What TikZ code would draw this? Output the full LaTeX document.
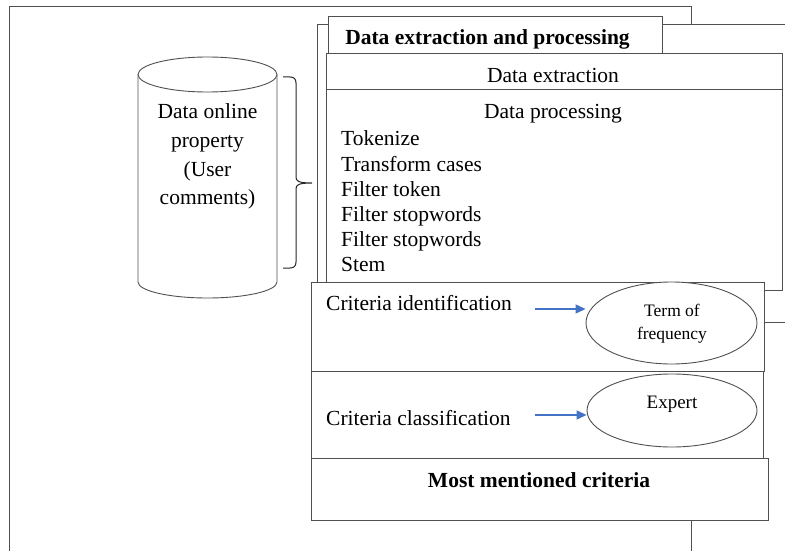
\documentclass[tikz,border=0pt]{standalone}
\usepackage{fontspec}
\setmainfont{Liberation Serif}
\usetikzlibrary{shapes.geometric,arrows.meta}
\definecolor{linegray}{HTML}{505050}
\definecolor{arrowblue}{HTML}{4472C4}
\tikzset{
  frame/.style={draw=linegray, fill=white, line width=0.9pt, inner sep=0pt, outer sep=0pt, anchor=north west},
  txt/.style={inner sep=0pt, font=\fontsize{21.5}{25}\selectfont},
  small/.style={inner sep=0pt, font=\fontsize{17.5}{23}\selectfont},
  oval/.style={ellipse, draw=linegray, fill=white, line width=0.9pt, inner sep=0pt},
  bluearrow/.style={draw=arrowblue, line width=1.2pt, -{Triangle[length=10pt,width=9pt]}},
  edge/.style={draw=linegray, line width=0.9pt}
}
\begin{document}
\begin{tikzpicture}[x=1pt,y=-1pt]
\useasboundingbox (0,0) rectangle (785,551);
% outer frame
\draw[edge] (9,551) -- (9,6) -- (691,6) -- (691,551);
% second frame
\fill[white] (317,24) rectangle (785,322);
\draw[edge] (785,24) -- (317,24) -- (317,322) -- (785,322);
% title box
\node[frame, minimum width=334pt, minimum height=37pt] (title) at (328,16) {};
\node[txt, anchor=base] (titletext) at (487.5,45) {\textbf{Data extraction and processing}};
% data box
\node[frame, minimum width=456pt, minimum height=237pt] (data) at (326,53) {};
\coordinate (divL) at (326,89);
\coordinate (divR) at (782,89);
\draw[edge] (divL) -- (divR);
\node[txt, anchor=base] (extr) at (553,82) {Data extraction};
\node[txt, anchor=base] (proc) at (553,118) {Data processing};
\node[txt, anchor=base west] (l1) at (341,146) {Tokenize};
\node[txt, anchor=base west] (l2) at (341,171) {Transform cases};
\node[txt, anchor=base west] (l3) at (341,196) {Filter token};
\node[txt, anchor=base west] (l4) at (341,221) {Filter stopwords};
\node[txt, anchor=base west] (l5) at (341,246) {Filter stopwords};
\node[txt, anchor=base west] (l6) at (341,271.5) {Stem};
% cylinder
\draw[edge, fill=white] (138,74.5) -- (138,282) arc[start angle=180, end angle=0, x radius=69.5, y radius=16] -- (277,74.5);
\draw[edge, fill=white] (207.5,74.5) ellipse [x radius=69.5, y radius=17.5];
\node[txt, anchor=base] (c1) at (207.5,118) {Data online};
\node[txt, anchor=base] (c2) at (207.5,147.5) {property};
\node[txt, anchor=base] (c3) at (207.5,176) {(User};
\node[txt, anchor=base] (c4) at (207.5,204) {comments)};
% brace
\coordinate (bt) at (283,77);
\coordinate (bb) at (283,268);
\coordinate (btip) at (312,183);
\draw[draw=black!85, line width=1pt]
  (bt) -- (290,77) .. controls (294,77) and (296,79) .. (296,83) -- (296,177)
  .. controls (296,181) and (298,183) .. (btip)
  (bb) -- (290,268) .. controls (294,268) and (296,266) .. (296,262) -- (296,189)
  .. controls (296,185) and (298,183) .. (btip);
% criteria boxes
\node[frame, minimum width=453pt, minimum height=89pt] (ident) at (311,282) {};
\node[frame, minimum width=452pt, minimum height=87pt] (class) at (311,371) {};
\node[frame, minimum width=457pt, minimum height=62pt] (most) at (311,458) {};
\node[txt, anchor=base west] (identtext) at (326,310) {Criteria identification};
\node[txt, anchor=base west] (classtext) at (326,425) {Criteria classification};
\node[txt, anchor=base] (mosttext) at (539,487) {\textbf{Most mentioned criteria}};
% ellipses
\node[oval, minimum width=171pt, minimum height=82pt] (tof) at (671.5,323) {};
\node[small, anchor=base] (tof1) at (672,316) {Term of};
\node[small, anchor=base] (tof2) at (672,339) {frequency};
\node[oval, minimum width=170pt, minimum height=73pt] (expert) at (672,410.5) {};
\node[txt, font=\fontsize{19}{23}\selectfont, anchor=base] (experttext) at (672,408) {Expert};
% arrows
\coordinate (a1) at (535,309);
\coordinate (a2) at (535,415);
\draw[bluearrow] (a1) -- (a1 -| tof.west);
\draw[bluearrow] (a2) -- (a2 -| expert.west);
\end{tikzpicture}
\end{document}
